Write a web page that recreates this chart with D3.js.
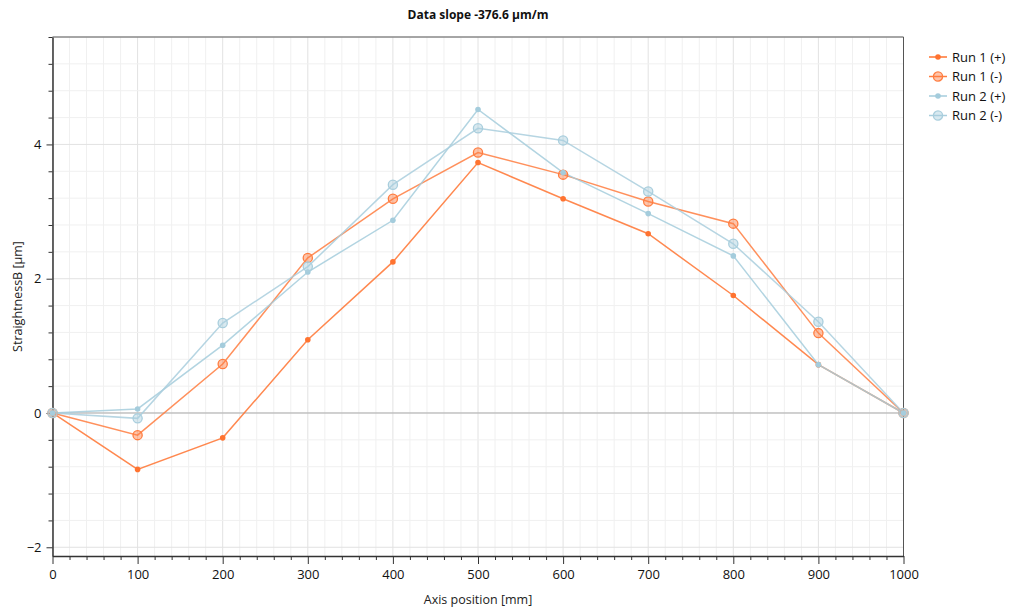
<!DOCTYPE html>
<html>
<head>
<meta charset="utf-8">
<script src="https://cdn.jsdelivr.net/npm/d3@7"></script>
<style>
  body { margin: 0; background: #fff; }
  text { font-family: "Open Sans", "Noto Sans", sans-serif; }
</style>
</head>
<body>
<div id="chart"></div>
<script>
// positions along the axis [mm]
const positions = [0, 100, 200, 300, 400, 500, 600, 700, 800, 900, 1000];

// straightness values [µm]
const run1Plus  = [0, -0.84, -0.37, 1.09, 2.25, 3.73, 3.19, 2.67, 1.75, 0.72, 0];
const run1Minus = [0, -0.33, 0.73, 2.31, 3.19, 3.88, 3.55, 3.15, 2.82, 1.19, 0];
const run2Plus  = [0, 0.06, 1.01, 2.10, 2.87, 4.52, 3.58, 2.97, 2.34, 0.72, 0];
const run2Minus = [0, -0.08, 1.34, 2.18, 3.40, 4.24, 4.06, 3.30, 2.52, 1.36, 0];

const seriesNames = ['Run 1 (+)', 'Run 1 (-)', 'Run 2 (+)', 'Run 2 (-)'];
const yTicks = [-2, 0, 2, 4];
const xTicks = [0, 100, 200, 300, 400, 500, 600, 700, 800, 900, 1000];

const title = 'Data slope -376.6 µm/m';

const width = 1015, height = 608;
const margin = { top: 37, right: 111.5, bottom: 52, left: 52.5 };
const innerW = width - margin.left - margin.right;
const innerH = height - margin.top - margin.bottom;

const svg = d3.select('#chart').append('svg')
    .attr('width', width)
    .attr('height', height);

const x = d3.scaleLinear().domain([0, 1000]).range([0, innerW]);
const y = d3.scaleLinear().domain([-2.13, 5.6]).range([innerH, 0]);

const g = svg.append('g').attr('transform', `translate(${margin.left},${margin.top})`);

// grid, minor first then major
const xMinor = d3.range(0, 1001, 20);
const yMinor = d3.range(-2, 5.61, 0.4).map(v => +v.toFixed(2));

g.append('g').selectAll('line').data(xMinor).enter().append('line')
    .attr('x1', d => x(d)).attr('x2', d => x(d))
    .attr('y1', 0).attr('y2', innerH)
    .attr('stroke', d => d % 100 === 0 ? '#e2e2e2' : '#f0f0f0');

g.append('g').selectAll('line').data(yMinor).enter().append('line')
    .attr('x1', 0).attr('x2', innerW)
    .attr('y1', d => y(d)).attr('y2', d => y(d))
    .attr('stroke', d => Math.abs(d % 2) < 1e-6 ? '#e2e2e2' : '#f0f0f0');

// zero line
g.append('line')
    .attr('x1', 0).attr('x2', innerW)
    .attr('y1', y(0)).attr('y2', y(0))
    .attr('stroke', '#b0b0b0');

// frame (top, right)
g.append('path')
    .attr('d', `M0,0H${innerW}V${innerH}`)
    .attr('fill', 'none')
    .attr('stroke', '#555');

// axes
g.append('g').attr('transform', `translate(0,${innerH})`)
    .call(d3.axisBottom(x).tickValues(xTicks).tickFormat(d3.format('d'))
        .tickSize(8).tickPadding(6).tickSizeOuter(0));
g.append('g').attr('transform', `translate(0,${innerH})`)
    .call(d3.axisBottom(x).tickValues(xMinor.filter(d => d % 100 !== 0)).tickSize(4).tickFormat(''))
    .select('.domain').remove();

g.append('g')
    .call(d3.axisLeft(y).tickValues(yTicks).tickSize(6).tickPadding(5).tickSizeOuter(0));
g.append('g')
    .call(d3.axisLeft(y).tickValues(yMinor.filter(d => Math.abs(d % 2) > 1e-6)).tickSize(4).tickFormat(''))
    .select('.domain').remove();

svg.selectAll('.domain').attr('stroke', '#333').attr('stroke-width', 1.5);
svg.selectAll('.tick line').attr('stroke', '#333');
svg.selectAll('.tick text').attr('font-size', 13).attr('fill', '#111');

// lines
const seriesData = [run1Plus, run1Minus, run2Plus, run2Minus];
const colors = ['#ff7330', '#ff7d40', '#a4ccdc', '#a9cedd'];
const radius = [2.8, 4.6, 2.8, 4.6];

const line = d3.line()
    .x((d, i) => x(positions[i]))
    .y(d => y(d));

seriesData.forEach((vals, k) => {
    g.append('path')
        .datum(vals)
        .attr('d', line)
        .attr('fill', 'none')
        .attr('stroke', colors[k])
        .attr('stroke-opacity', 0.85)
        .attr('stroke-width', 1.5);
});

seriesData.forEach((vals, k) => {
    const big = k % 2 === 1;
    g.append('g').selectAll('circle').data(vals).enter().append('circle')
        .attr('cx', (d, i) => x(positions[i]))
        .attr('cy', d => y(d))
        .attr('r', radius[k])
        .attr('fill', colors[k])
        .attr('fill-opacity', big ? 0.45 : 1)
        .attr('stroke', big ? colors[k] : 'none')
        .attr('stroke-width', 1.3);
});

// title
svg.append('text')
    .attr('x', margin.left + innerW / 2)
    .attr('y', 19)
    .attr('text-anchor', 'middle')
    .attr('font-size', 12)
    .attr('font-weight', 'bold')
    .attr('fill', '#111')
    .text(title);

// axis titles
svg.append('text')
    .attr('x', margin.left + innerW / 2)
    .attr('y', 604)
    .attr('text-anchor', 'middle')
    .attr('font-size', 12.5)
    .attr('fill', '#222')
    .text('Axis position [mm]');

svg.append('text')
    .attr('transform', `translate(22,${margin.top + innerH / 2}) rotate(-90)`)
    .attr('text-anchor', 'middle')
    .attr('font-size', 12.5)
    .attr('fill', '#222')
    .text('StraightnessB [µm]');

// legend
const legend = svg.append('g').attr('transform', 'translate(929,57)');
seriesNames.forEach((name, k) => {
    const row = legend.append('g').attr('transform', `translate(0,${k * 19.5})`);
    row.append('line')
        .attr('x1', 0).attr('x2', 18)
        .attr('stroke', colors[k]).attr('stroke-width', 1.5);
    row.append('circle')
        .attr('cx', 9).attr('r', radius[k])
        .attr('fill', colors[k])
        .attr('fill-opacity', k % 2 ? 0.45 : 1)
        .attr('stroke', k % 2 ? colors[k] : 'none')
        .attr('stroke-width', 1.3);
    row.append('text')
        .attr('x', 23).attr('y', 4.5)
        .attr('font-size', 13)
        .attr('fill', '#111')
        .text(name);
});
</script>
</body>
</html>
